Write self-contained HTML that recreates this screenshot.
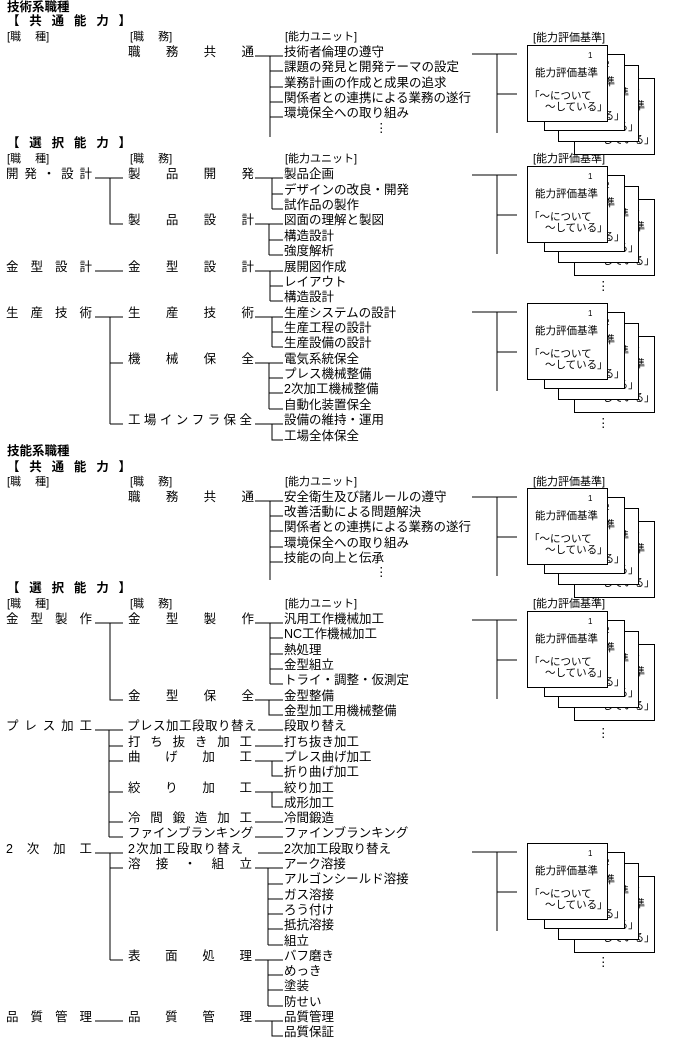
<!DOCTYPE html>
<html><head><meta charset="utf-8"><style>
body{margin:0;width:679px;height:1040px;background:#fff;position:relative;overflow:hidden;font-family:"Liberation Sans","Noto Sans CJK JP",sans-serif;color:#000}
.t{position:absolute;font-size:12.5px;line-height:14px;white-space:nowrap}
.b{font-weight:bold}
.j{display:flex;justify-content:space-between}
.s{font-size:11px}
.card{position:absolute;width:79px;height:75px;border:1px solid #000;background:#fff;font-size:10.5px;line-height:11px;white-space:nowrap;overflow:hidden}
.card .n{position:absolute;left:60px;top:4px;font-size:8px}
.card .a{position:absolute;left:7px;top:22px}
.card .c{position:absolute;left:1px;top:45px}
.card .d{position:absolute;left:17px;top:56px}
svg{position:absolute;left:0;top:0}
</style></head><body>
<svg width="679" height="1040" stroke="#000" stroke-width="1" fill="none" shape-rendering="crispEdges">
<path d="M255 56H283M270 56V137M270 71H283M270 87H283M270 102H283M270 117H283"/>
<path d="M95 178H123M110 178V224H123"/>
<path d="M255 178H283M272 178V209M272 194H283M272 209H283"/>
<path d="M255 224H283M269 224V255M269 240H283M269 255H283"/>
<path d="M95 271H123M255 271H283M270 271V301M270 286H283M270 301H283"/>
<path d="M95 317H123M110 317V424M110 363H123M110 424H123"/>
<path d="M255 317H283M272 317V347M272 332H283M272 347H283"/>
<path d="M255 363H283M269 363V409M269 378H283M269 393H283M269 409H283"/>
<path d="M255 424H283M272 424V440H283"/>
<path d="M255 501H283M270 501V580M270 516H283M270 531H283M270 547H283M270 562H283"/>
<path d="M95 623H123M110 623V700H123"/>
<path d="M255 623H283M270 623V684M270 638H283M270 654H283M270 669H283M270 684H283"/>
<path d="M255 700H283M269 700V715H283"/>
<path d="M95 730H123M109 730V837M109 746H123M109 761H123M109 792H123M109 822H123M109 837H123"/>
<path d="M258 730H283M255 746H283"/>
<path d="M255 761H283M272 761V776H283"/>
<path d="M255 792H283M272 792V807H283"/>
<path d="M255 822H283M255 837H283"/>
<path d="M95 853H123M110 853V960M110 868H123M110 960H123"/>
<path d="M258 853H283"/>
<path d="M255 868H283M268 868V945M268 884H283M268 899H283M268 914H283M268 929H283M268 945H283"/>
<path d="M255 960H283M268 960V1006M268 975H283M268 990H283M268 1006H283"/>
<path d="M95 1021H123M255 1021H283M272 1021V1036H283"/>
<path d="M472 54H517M497 54V133M497 94H517"/>
<path d="M472 175H517M497 175V254M497 215H517"/>
<path d="M472 312H517M497 312V391M497 352H517"/>
<path d="M472 497H517M497 497V576M497 537H517"/>
<path d="M472 620H517M497 620V699M497 660H517"/>
<path d="M472 852H517M497 852V931M497 892H517"/>
</svg>

<div class="t b" style="left:7px;top:0px">技術系職種</div>
<div class="t b j" style="left:7px;top:14px;width:124px"><span>【</span><span>共</span><span>通</span><span>能</span><span>力</span><span>】</span></div>
<div class="t s" style="left:7px;top:30px">[職　 種]</div>
<div class="t s" style="left:130px;top:30px">[職　 務]</div>
<div class="t s" style="left:285px;top:30px">[能力ユニット]</div>
<div class="t j" style="left:128px;top:45px;width:126px"><span>職</span><span>務</span><span>共</span><span>通</span></div>
<div class="t" style="left:284px;top:45px">技術者倫理の遵守</div>
<div class="t" style="left:284px;top:60px">課題の発見と開発テーマの設定</div>
<div class="t" style="left:284px;top:76px">業務計画の作成と成果の追求</div>
<div class="t" style="left:284px;top:91px">関係者との連携による業務の遂行</div>
<div class="t" style="left:284px;top:106px">環境保全への取り組み</div>
<div class="t" style="left:375px;top:121px">⋮</div>

<div class="t b j" style="left:7px;top:136px;width:124px"><span>【</span><span>選</span><span>択</span><span>能</span><span>力</span><span>】</span></div>
<div class="t s" style="left:7px;top:152px">[職　 種]</div>
<div class="t s" style="left:130px;top:152px">[職　 務]</div>
<div class="t s" style="left:285px;top:152px">[能力ユニット]</div>

<div class="t j" style="left:6px;top:167px;width:86px"><span>開</span><span>発</span><span>・</span><span>設</span><span>計</span></div>
<div class="t j" style="left:128px;top:167px;width:126px"><span>製</span><span>品</span><span>開</span><span>発</span></div>
<div class="t" style="left:284px;top:167px">製品企画</div>
<div class="t" style="left:284px;top:183px">デザインの改良・開発</div>
<div class="t" style="left:284px;top:198px">試作品の製作</div>
<div class="t j" style="left:128px;top:213px;width:126px"><span>製</span><span>品</span><span>設</span><span>計</span></div>
<div class="t" style="left:284px;top:213px">図面の理解と製図</div>
<div class="t" style="left:284px;top:229px">構造設計</div>
<div class="t" style="left:284px;top:244px">強度解析</div>

<div class="t j" style="left:6px;top:260px;width:86px"><span>金</span><span>型</span><span>設</span><span>計</span></div>
<div class="t j" style="left:128px;top:260px;width:126px"><span>金</span><span>型</span><span>設</span><span>計</span></div>
<div class="t" style="left:284px;top:260px">展開図作成</div>
<div class="t" style="left:284px;top:275px">レイアウト</div>
<div class="t" style="left:284px;top:290px">構造設計</div>

<div class="t j" style="left:6px;top:306px;width:86px"><span>生</span><span>産</span><span>技</span><span>術</span></div>
<div class="t j" style="left:128px;top:306px;width:126px"><span>生</span><span>産</span><span>技</span><span>術</span></div>
<div class="t" style="left:284px;top:306px">生産システムの設計</div>
<div class="t" style="left:284px;top:321px">生産工程の設計</div>
<div class="t" style="left:284px;top:336px">生産設備の設計</div>
<div class="t j" style="left:128px;top:352px;width:126px"><span>機</span><span>械</span><span>保</span><span>全</span></div>
<div class="t" style="left:284px;top:352px">電気系統保全</div>
<div class="t" style="left:284px;top:367px">プレス機械整備</div>
<div class="t" style="left:284px;top:382px">2次加工機械整備</div>
<div class="t" style="left:284px;top:398px">自動化装置保全</div>
<div class="t j" style="left:128px;top:413px;width:124px"><span>工</span><span>場</span><span>イ</span><span>ン</span><span>フ</span><span>ラ</span><span>保</span><span>全</span></div>
<div class="t" style="left:284px;top:413px">設備の維持・運用</div>
<div class="t" style="left:284px;top:429px">工場全体保全</div>

<div class="t b" style="left:7px;top:444px">技能系職種</div>
<div class="t b j" style="left:7px;top:460px;width:124px"><span>【</span><span>共</span><span>通</span><span>能</span><span>力</span><span>】</span></div>
<div class="t s" style="left:7px;top:475px">[職　 種]</div>
<div class="t s" style="left:130px;top:475px">[職　 務]</div>
<div class="t s" style="left:285px;top:475px">[能力ユニット]</div>
<div class="t j" style="left:128px;top:490px;width:126px"><span>職</span><span>務</span><span>共</span><span>通</span></div>
<div class="t" style="left:284px;top:490px">安全衛生及び諸ルールの遵守</div>
<div class="t" style="left:284px;top:505px">改善活動による問題解決</div>
<div class="t" style="left:284px;top:520px">関係者との連携による業務の遂行</div>
<div class="t" style="left:284px;top:536px">環境保全への取り組み</div>
<div class="t" style="left:284px;top:551px">技能の向上と伝承</div>
<div class="t" style="left:375px;top:565px">⋮</div>

<div class="t b j" style="left:7px;top:581px;width:124px"><span>【</span><span>選</span><span>択</span><span>能</span><span>力</span><span>】</span></div>
<div class="t s" style="left:7px;top:597px">[職　 種]</div>
<div class="t s" style="left:130px;top:597px">[職　 務]</div>
<div class="t s" style="left:285px;top:597px">[能力ユニット]</div>

<div class="t j" style="left:6px;top:612px;width:86px"><span>金</span><span>型</span><span>製</span><span>作</span></div>
<div class="t j" style="left:128px;top:612px;width:126px"><span>金</span><span>型</span><span>製</span><span>作</span></div>
<div class="t" style="left:284px;top:612px">汎用工作機械加工</div>
<div class="t" style="left:284px;top:627px">NC工作機械加工</div>
<div class="t" style="left:284px;top:643px">熱処理</div>
<div class="t" style="left:284px;top:658px">金型組立</div>
<div class="t" style="left:284px;top:673px">トライ・調整・仮測定</div>
<div class="t j" style="left:128px;top:689px;width:126px"><span>金</span><span>型</span><span>保</span><span>全</span></div>
<div class="t" style="left:284px;top:689px">金型整備</div>
<div class="t" style="left:284px;top:704px">金型加工用機械整備</div>

<div class="t j" style="left:6px;top:719px;width:86px"><span>プ</span><span>レ</span><span>ス</span><span>加</span><span>工</span></div>
<div class="t" style="left:127px;top:719px;letter-spacing:0.5px">プレス加工段取り替え</div>
<div class="t" style="left:284px;top:719px">段取り替え</div>
<div class="t j" style="left:128px;top:735px;width:124px"><span>打</span><span>ち</span><span>抜</span><span>き</span><span>加</span><span>工</span></div>
<div class="t" style="left:284px;top:735px">打ち抜き加工</div>
<div class="t j" style="left:128px;top:750px;width:124px"><span>曲</span><span>げ</span><span>加</span><span>工</span></div>
<div class="t" style="left:284px;top:750px">プレス曲げ加工</div>
<div class="t" style="left:284px;top:765px">折り曲げ加工</div>
<div class="t j" style="left:128px;top:781px;width:124px"><span>絞</span><span>り</span><span>加</span><span>工</span></div>
<div class="t" style="left:284px;top:781px">絞り加工</div>
<div class="t" style="left:284px;top:796px">成形加工</div>
<div class="t j" style="left:128px;top:811px;width:124px"><span>冷</span><span>間</span><span>鍛</span><span>造</span><span>加</span><span>工</span></div>
<div class="t" style="left:284px;top:811px">冷間鍛造</div>
<div class="t j" style="left:128px;top:826px;width:124px"><span>フ</span><span>ァ</span><span>イ</span><span>ン</span><span>ブ</span><span>ラ</span><span>ン</span><span>キ</span><span>ン</span><span>グ</span></div>
<div class="t" style="left:284px;top:826px">ファインブランキング</div>

<div class="t j" style="left:6px;top:842px;width:86px"><span>2</span><span>次</span><span>加</span><span>工</span></div>
<div class="t" style="left:128px;top:842px;letter-spacing:1px">2次加工段取り替え</div>
<div class="t" style="left:284px;top:842px">2次加工段取り替え</div>
<div class="t j" style="left:128px;top:857px;width:124px"><span>溶</span><span>接</span><span>・</span><span>組</span><span>立</span></div>
<div class="t" style="left:284px;top:857px">アーク溶接</div>
<div class="t" style="left:284px;top:872px">アルゴンシールド溶接</div>
<div class="t" style="left:284px;top:888px">ガス溶接</div>
<div class="t" style="left:284px;top:903px">ろう付け</div>
<div class="t" style="left:284px;top:918px">抵抗溶接</div>
<div class="t" style="left:284px;top:934px">組立</div>
<div class="t j" style="left:128px;top:949px;width:124px"><span>表</span><span>面</span><span>処</span><span>理</span></div>
<div class="t" style="left:284px;top:949px">バフ磨き</div>
<div class="t" style="left:284px;top:964px">めっき</div>
<div class="t" style="left:284px;top:979px">塗装</div>
<div class="t" style="left:284px;top:995px">防せい</div>

<div class="t j" style="left:6px;top:1010px;width:86px"><span>品</span><span>質</span><span>管</span><span>理</span></div>
<div class="t j" style="left:128px;top:1010px;width:124px"><span>品</span><span>質</span><span>管</span><span>理</span></div>
<div class="t" style="left:284px;top:1010px">品質管理</div>
<div class="t" style="left:284px;top:1025px">品質保証</div>

<div class="t s" style="left:533px;top:31px">[能力評価基準]</div>
<div class="t s" style="left:533px;top:152px">[能力評価基準]</div>
<div class="t s" style="left:533px;top:475px">[能力評価基準]</div>
<div class="t s" style="left:533px;top:597px">[能力評価基準]</div>

<div class="card" style="left:574px;top:78px"><span class="n">4</span><span class="a">能力評価基準</span><span class="c">「～について</span><span class="d">～している」</span></div>
<div class="card" style="left:558px;top:65px"><span class="n">3</span><span class="a">能力評価基準</span><span class="c">「～について</span><span class="d">～している」</span></div>
<div class="card" style="left:544px;top:54px"><span class="n">2</span><span class="a">能力評価基準</span><span class="c">「～について</span><span class="d">～している」</span></div>
<div class="card" style="left:527px;top:45px"><span class="n">1</span><span class="a">能力評価基準</span><span class="c">「～について</span><span class="d">～している」</span></div>

<div class="card" style="left:574px;top:199px"><span class="n">4</span><span class="a">能力評価基準</span><span class="c">「～について</span><span class="d">～している」</span></div>
<div class="card" style="left:558px;top:186px"><span class="n">3</span><span class="a">能力評価基準</span><span class="c">「～について</span><span class="d">～している」</span></div>
<div class="card" style="left:544px;top:175px"><span class="n">2</span><span class="a">能力評価基準</span><span class="c">「～について</span><span class="d">～している」</span></div>
<div class="card" style="left:527px;top:166px"><span class="n">1</span><span class="a">能力評価基準</span><span class="c">「～について</span><span class="d">～している」</span></div>
<div class="t" style="left:597px;top:279px">⋮</div>

<div class="card" style="left:574px;top:336px"><span class="n">4</span><span class="a">能力評価基準</span><span class="c">「～について</span><span class="d">～している」</span></div>
<div class="card" style="left:558px;top:323px"><span class="n">3</span><span class="a">能力評価基準</span><span class="c">「～について</span><span class="d">～している」</span></div>
<div class="card" style="left:544px;top:312px"><span class="n">2</span><span class="a">能力評価基準</span><span class="c">「～について</span><span class="d">～している」</span></div>
<div class="card" style="left:527px;top:303px"><span class="n">1</span><span class="a">能力評価基準</span><span class="c">「～について</span><span class="d">～している」</span></div>
<div class="t" style="left:597px;top:416px">⋮</div>

<div class="card" style="left:574px;top:521px"><span class="n">4</span><span class="a">能力評価基準</span><span class="c">「～について</span><span class="d">～している」</span></div>
<div class="card" style="left:558px;top:508px"><span class="n">3</span><span class="a">能力評価基準</span><span class="c">「～について</span><span class="d">～している」</span></div>
<div class="card" style="left:544px;top:497px"><span class="n">2</span><span class="a">能力評価基準</span><span class="c">「～について</span><span class="d">～している」</span></div>
<div class="card" style="left:527px;top:488px"><span class="n">1</span><span class="a">能力評価基準</span><span class="c">「～について</span><span class="d">～している」</span></div>

<div class="card" style="left:574px;top:644px"><span class="n">4</span><span class="a">能力評価基準</span><span class="c">「～について</span><span class="d">～している」</span></div>
<div class="card" style="left:558px;top:631px"><span class="n">3</span><span class="a">能力評価基準</span><span class="c">「～について</span><span class="d">～している」</span></div>
<div class="card" style="left:544px;top:620px"><span class="n">2</span><span class="a">能力評価基準</span><span class="c">「～について</span><span class="d">～している」</span></div>
<div class="card" style="left:527px;top:611px"><span class="n">1</span><span class="a">能力評価基準</span><span class="c">「～について</span><span class="d">～している」</span></div>
<div class="t" style="left:597px;top:726px">⋮</div>

<div class="card" style="left:574px;top:876px"><span class="n">4</span><span class="a">能力評価基準</span><span class="c">「～について</span><span class="d">～している」</span></div>
<div class="card" style="left:558px;top:863px"><span class="n">3</span><span class="a">能力評価基準</span><span class="c">「～について</span><span class="d">～している」</span></div>
<div class="card" style="left:544px;top:852px"><span class="n">2</span><span class="a">能力評価基準</span><span class="c">「～について</span><span class="d">～している」</span></div>
<div class="card" style="left:527px;top:843px"><span class="n">1</span><span class="a">能力評価基準</span><span class="c">「～について</span><span class="d">～している」</span></div>
<div class="t" style="left:597px;top:955px">⋮</div>
</body></html>
